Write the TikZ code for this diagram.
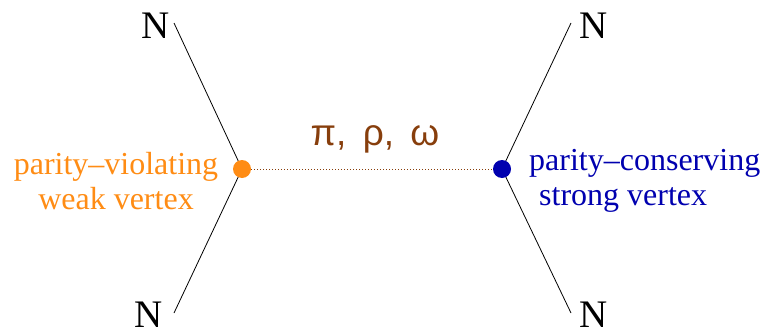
\documentclass[tikz,border=0pt]{standalone}
\usepackage{fontspec}
\setmainfont{Liberation Serif}
\newfontfamily\greekfont{Liberation Sans}
\usetikzlibrary{positioning,backgrounds}
\definecolor{weakorange}{RGB}{255,140,20}
\definecolor{strongblue}{RGB}{0,0,175}
\definecolor{mesonbrown}{RGB}{135,62,12}

\begin{document}
\begin{tikzpicture}[x=1pt, y=-1pt,
    vertexdot/.style={circle, inner sep=0pt, minimum size=18pt},
    nucleon/.style={inner sep=0pt, anchor=base west, font=\fontsize{39}{40}\selectfont},
    vertexlabel/.style={inner sep=0pt, font=\fontsize{32}{35}\selectfont}]
    \useasboundingbox (0,0) rectangle (768,332);

    % Nodes
    \node (weak) [vertexdot, fill=weakorange] at (242,169) {};
    \node (strong) [vertexdot, fill=strongblue] at (502,169) {};
    \node (nTL) [nucleon] at (141,38) {N};
    \node (nBL) [nucleon] at (134,327) {N};
    \node (nTR) [nucleon] at (579,38) {N};
    \node (nBR) [nucleon] at (579,327) {N};
    \coordinate (endTL) at (174,23);
    \coordinate (endBL) at (174,313);
    \coordinate (endTR) at (571,23);
    \coordinate (endBR) at (571,313);

    \node (weaklabel) [vertexlabel, text=weakorange, align=center] at (116,181) {parity--violating\\weak vertex};
    \node (stronglabel) [vertexlabel, text=strongblue, align=left, anchor=west] at (529,181) {parity--conserving\\\hspace{10pt}strong vertex};
    \node (mesons) [inner sep=0pt, anchor=base, text=mesonbrown, font=\greekfont\fontsize{37}{38}\selectfont] at (375,145) {π, \hspace{6pt}ρ, \hspace{6pt}ω};

    % Edges
    \begin{scope}[on background layer]
    \draw[line width=0.8pt] (weak.center) -- (endTL);
    \draw[line width=0.8pt] (weak.center) -- (endBL);
    \draw[line width=0.8pt] (strong.center) -- (endTR);
    \draw[line width=0.8pt] (strong.center) -- (endBR);
    \end{scope}
    \draw[mesonbrown, dotted, line width=1pt] (weak) -- (strong);
\end{tikzpicture}
\end{document}
